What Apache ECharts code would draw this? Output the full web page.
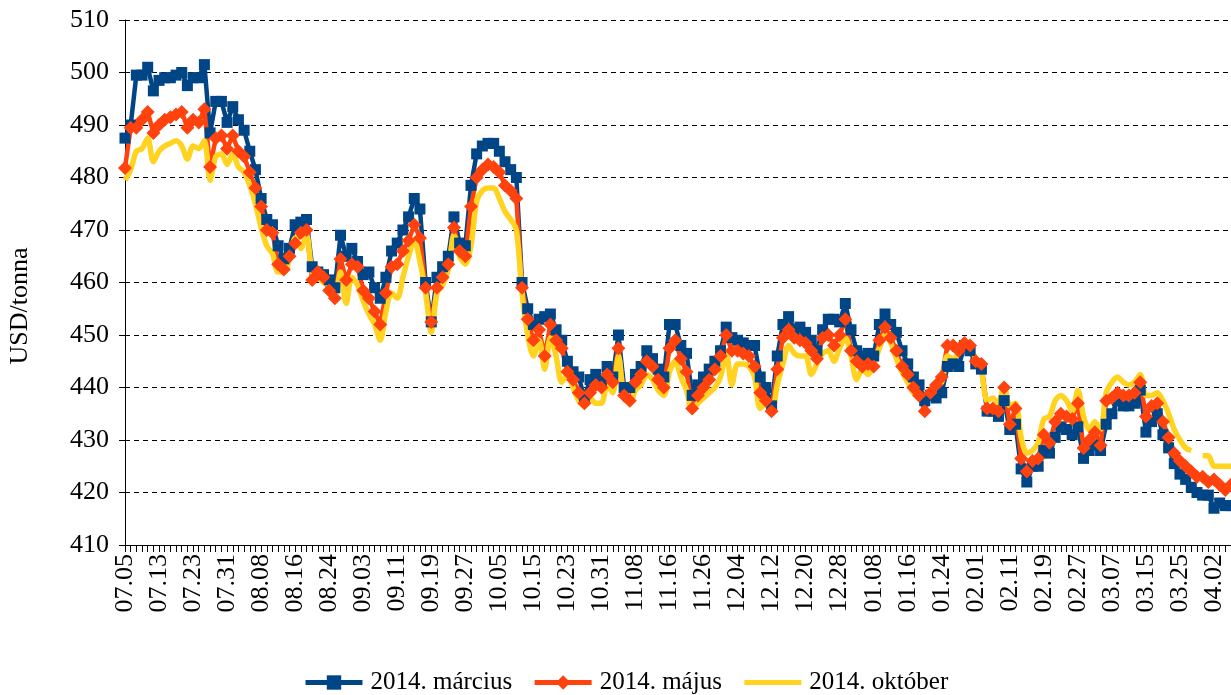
<!DOCTYPE html>
<html>
<head>
<meta charset="utf-8">
<script src="https://cdn.jsdelivr.net/npm/echarts@6/dist/echarts.min.js"></script>
<style>
  html, body { margin: 0; padding: 0; background: #fff; }
  #chart { width: 1231px; height: 695px; }
</style>
</head>
<body>
<div id="chart"></div>
<script>
// Trading days (month.day)
const days = [
  '07.05','07.06','07.09','07.10','07.11','07.12','07.13','07.16','07.17','07.18','07.19','07.20','07.23','07.24','07.25','07.26','07.27','07.30','07.31',
  '08.01','08.02','08.03','08.06','08.07','08.08','08.09','08.10','08.13','08.14','08.15','08.16','08.17','08.20','08.21','08.22','08.23','08.24','08.27','08.28','08.29','08.30','08.31',
  '09.03','09.04','09.05','09.06','09.07','09.10','09.11','09.12','09.13','09.14','09.17','09.18','09.19','09.20','09.21','09.24','09.25','09.26','09.27','09.28',
  '10.01','10.02','10.03','10.04','10.05','10.08','10.09','10.10','10.11','10.12','10.15','10.16','10.17','10.18','10.19','10.22','10.23','10.24','10.25','10.26','10.29','10.30','10.31',
  '11.01','11.02','11.05','11.06','11.07','11.08','11.09','11.12','11.13','11.14','11.15','11.16','11.19','11.20','11.21','11.22','11.23','11.26','11.27','11.28','11.29','11.30',
  '12.03','12.04','12.05','12.06','12.07','12.10','12.11','12.12','12.13','12.14','12.17','12.18','12.19','12.20','12.21','12.24','12.25','12.26','12.27','12.28','12.31',
  '01.02','01.03','01.04','01.07','01.08','01.09','01.10','01.11','01.14','01.15','01.16','01.17','01.18','01.21','01.22','01.23','01.24','01.25','01.28','01.29','01.30','01.31',
  '02.01','02.04','02.05','02.06','02.07','02.08','02.11','02.12','02.13','02.14','02.15','02.18','02.19','02.20','02.21','02.22','02.25','02.26','02.27','02.28',
  '03.01','03.04','03.05','03.06','03.07','03.08','03.11','03.12','03.13','03.14','03.15','03.18','03.19','03.20','03.21','03.22','03.25','03.26','03.27','03.28','03.29',
  '04.01','04.02','04.03','04.04','04.05'
];

// 2014. március
const marcius = [
  487.5,490,499.5,499.5,501,496.5,498.5,499,499,499.5,500,497.5,499,499,501.5,488.5,494.5,494.5,490.5,493.5,
  491,489,485,481.5,476,472,471,467,464.5,466.5,471,471.5,472,463,462,461.5,460.5,459,469,465,
  466.5,464,461.5,462,459,457,461,466,467.5,470,472.5,476,474,460,452.5,461,463,465,472.5,467.5,
  467,478.5,484.5,486,486.5,486.5,485,483,481.5,480,460,455,452,453,453.5,454,451,449,445,443,
  442,438,441.5,442.5,441,444,442,450,440,440,442.5,444,447,445.5,443.5,442,452,452,448,446.5,
  438.5,440.5,442,443.5,445,447,451.5,449.5,449,448.5,448,448,442,440,436.5,446,452,453.5,451,451.5,
  450.5,449,447,451,453,453,452.5,456,451,447,446,446.5,446,452,454,452,450.5,447,444.5,442,
  440.5,437.5,438.5,438,439,444,444.5,444,448,447,444.5,443.5,435.5,435.5,434.5,437.5,432,433,424.5,422,
  425,425,428,427.5,430.5,432.5,432,431,432.5,426.5,428,429,428,433,435,437.5,436.5,436.5,437,439.5,
  431.5,433.5,435,431,428.5,425.5,423.5,422.5,421,420,419.5,419.5,417,418,417.5,417.5
];

// 2014. május
const majus = [
  481.8,489.5,489.5,491,492.5,488.5,490,491,491.5,492,492.5,489.5,491,490.5,493,482,487.5,488,485.5,488,
  485,484,481,478,474.5,470,469.5,463.5,462.5,465,467.5,469.5,470,460.5,462,461,458.5,457,464.5,460.5,
  463.5,463,458.5,457,454.5,452,458,463,463.5,466,468,471,468.5,459,452.5,459,461,463.5,470.5,466,
  465,474.5,480,481.5,482.5,482,481,478.5,477.5,476,459,453,449,451,446,452,449,447.5,443,441.5,
  439,437,439,440.5,440,442.5,441,447.5,438.5,437.5,441,442.5,445,444,441.5,440,447.5,449,445.5,443,
  436,438.5,440,441.5,443.5,446,450,447,447,446.5,446,444,439,437.5,435.5,443.5,449.5,451,449.5,449,
  448.5,447,445.5,449.5,450,448,450,453,447,445,444,444.5,444,449,451.5,449.5,447,444,442.5,440,
  438.5,435.5,439,440.5,442,448,448,447,448.5,448,445,444.5,436,436,435.5,440,433,436,426.5,424,
  426,426.5,431,429.5,433.5,435,434.5,434,437,428.5,430,431.5,429,437.5,438,439,438.5,438.5,439,441,
  434.5,436.5,437,433.5,430.5,427.5,426,425,424,423,423,422,422.5,421.5,420.5,421.5
];

// 2014. október
const oktober = [
  479.5,481.5,485,485.5,487.5,483,485,486,486.5,487,486,483.5,486,485.5,487,479.5,484,484.5,482.5,484.5,
  482,481,478.5,475,470.5,467,465.5,462,462,464.5,468.5,466.5,469,462,461,460,459.5,457.5,462,456,
  461,459.5,456.5,454,452,449,454.5,458,457,461,465,468,464,458,450.5,458,459.5,462.5,469,465,
  463.5,467,475.5,477.5,478,478,476,473.5,472,470,458,450,446,449,443.5,449.5,446,441,442.5,440,
  437.5,436.5,438,437,437,440.5,439,446,438,437,439.5,440.5,442.5,441.5,439.5,438.5,443,445,442,439.5,
  435.5,437,438,439,440,442,446.5,440.5,444.5,444.5,444,442,436,437,435,440.5,444.5,448,446.5,446,
  446,442.5,444.5,446.5,447,445,447.5,449.5,446,441.5,443.5,442.5,444.5,447.5,450,448.5,445.5,443,441,439,
  438.5,438,439.5,440.5,441,446,445.5,446.5,448,447.5,445.5,443,437.5,438,437,440.5,436.5,437,430.5,427.5,
  428,429.5,434,434.5,437.5,438.5,437.5,435.5,439.5,434.5,432,433.5,432,439,441,442,441,440.5,441,442.5,
  438.5,438.5,439,437.5,435,432,430,428.5,428,null,427,427,425,425,425,425
];

const seriesNames = ['2014. március', '2014. május', '2014. október'];

const font = 'Liberation Serif';
const chart = echarts.init(document.getElementById('chart'));

chart.setOption({
  animation: false,
  textStyle: { fontFamily: font, color: '#000' },
  grid: { left: 125, right: 0, top: 20, bottom: 150 },
  legend: {
    bottom: -5,
    left: 298,
    itemWidth: 57,
    itemHeight: 18,
    itemGap: 20,
    lineStyle: { width: 5 },
    textStyle: { fontFamily: font, fontSize: 25, color: '#000', padding: [0, 0, 0, 3] },
    data: [
      { name: seriesNames[0] },
      { name: seriesNames[1] },
      { name: seriesNames[2], itemStyle: { opacity: 0 } }
    ]
  },
  graphic: [{
    type: 'text',
    x: 20,
    y: 306,
    rotation: Math.PI / 2,
    style: {
      text: 'USD/tonna',
      fontFamily: font,
      fontSize: 26,
      fill: '#000',
      align: 'center',
      verticalAlign: 'middle'
    }
  }],
  xAxis: {
    type: 'category',
    data: days,
    boundaryGap: false,
    axisLine: { lineStyle: { color: '#000', width: 1 } },
    axisTick: { interval: 0, length: 7, lineStyle: { color: '#000' } },
    axisLabel: {
      interval: 5,
      rotate: 90,
      margin: 9,
      fontSize: 26,
      fontFamily: font,
      color: '#000'
    },
    splitLine: { show: false }
  },
  yAxis: {
    type: 'value',
    min: 410,
    max: 510,
    interval: 10,
    axisLine: { show: true, lineStyle: { color: '#000', width: 1 } },
    axisTick: { show: true, length: 6, lineStyle: { color: '#000' } },
    axisLabel: { fontSize: 26, fontFamily: font, color: '#000', margin: 16 },
    splitLine: { lineStyle: { color: '#000', type: [5, 4], width: 1 } }
  },
  series: [
    {
      name: seriesNames[0],
      type: 'line',
      data: marcius,
      symbol: 'rect',
      symbolSize: 11,
      showAllSymbol: true,
      lineStyle: { color: '#004586', width: 4.5 },
      itemStyle: { color: '#004586' }
    },
    {
      name: seriesNames[1],
      type: 'line',
      data: majus,
      symbol: 'diamond',
      symbolSize: 14,
      showAllSymbol: true,
      lineStyle: { color: '#ff420e', width: 4.5 },
      itemStyle: { color: '#ff420e' }
    },
    {
      name: seriesNames[2],
      type: 'line',
      data: oktober,
      symbol: 'none',
      smooth: 0.3,
      connectNulls: false,
      lineStyle: { color: '#ffd320', width: 5.5 },
      itemStyle: { color: '#ffd320' }
    }
  ]
});
</script>
</body>
</html>
